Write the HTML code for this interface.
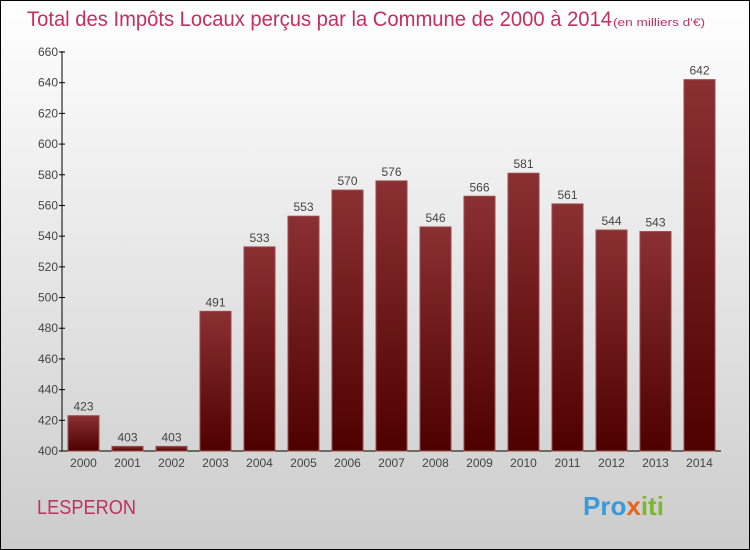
<!DOCTYPE html>
<html><head><meta charset="utf-8"><style>
body{margin:0}
#c{position:relative;width:748px;height:548px;border:1px solid #000;background:linear-gradient(#fff,#ccc);font-family:"Liberation Sans",sans-serif;overflow:hidden}
</style></head><body>
<div id="c">
<svg width="748" height="548" font-family="Liberation Sans, sans-serif">
<defs><linearGradient id="g" x1="0" y1="0" x2="0" y2="1"><stop offset="0" stop-color="#8a3033"/><stop offset="1" stop-color="#4e0000"/></linearGradient></defs>
<text x="26" y="25" font-size="21" fill="#c2305f" textLength="585" lengthAdjust="spacingAndGlyphs">Total des Impôts Locaux perçus par la Commune de 2000 à 2014</text>
<text x="612" y="25" font-size="11" fill="#c2305f" textLength="92" lengthAdjust="spacingAndGlyphs">(en milliers d'€)</text>
<g id="plot"></g>
<text x="36" y="513" font-size="20" fill="#c2305f" textLength="99" lengthAdjust="spacingAndGlyphs">LESPERON</text>
<text x="582" y="514" font-size="26" font-weight="bold" fill="#3a9ad9">Pro<tspan fill="#e8641c">x</tspan><tspan fill="#7cb82f">iti</tspan></text>
</svg></div>
<script>
const years=["2000","2001","2002","2003","2004","2005","2006","2007","2008","2009","2010","2011","2012","2013","2014"];
const values=[423,403,403,491,533,553,570,576,546,566,581,561,544,543,642];
const ticks=[400,420,440,460,480,500,520,540,560,580,600,620,640,660];
const NS="http://www.w3.org/2000/svg",p=document.getElementById('plot');
const y=v=>450-(v-400)*(399/260), x=i=>82.5+i*44;
function mk(t,a){const e=document.createElementNS(NS,t);for(const k in a)e.setAttribute(k,a[k]);p.appendChild(e);return e;}
let e=mk('line',{x1:61,y1:50,x2:61,y2:450,stroke:'#000'});


e=mk('line',{x1:61,y1:450,x2:720,y2:450,stroke:'#000'});


ticks.forEach(t=>{
 let l=mk('line',{x1:58,x2:64,y1:y(t),y2:y(t),stroke:'#000'});
 
 
 let s=mk('text',{x:57,y:y(t)+4,'text-anchor':'end','font-size':12,fill:'#444'});s.textContent=t;
 
 
});
values.forEach((v,i)=>{
 let r=mk('rect',{x:x(i)-15.5,y:y(v),width:31,height:450-y(v),fill:'url(#g)',stroke:'#9a4a4c','stroke-width':1});
 
 
 let t=mk('text',{x:x(i),y:y(v)-5,'text-anchor':'middle','font-size':12,fill:'#444'});t.textContent=v;
 
 
 let xl=mk('text',{x:x(i),y:466,'text-anchor':'middle','font-size':12,fill:'#444'});xl.textContent=years[i];
 
 
});
</script>
</body></html>
